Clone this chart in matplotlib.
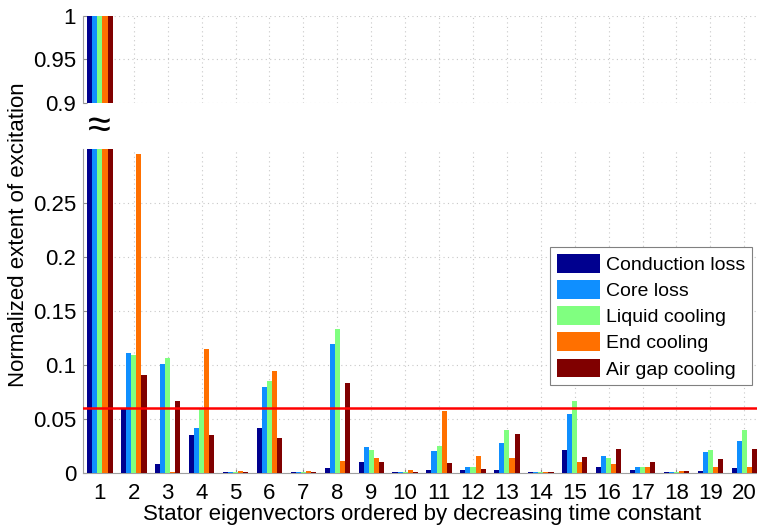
import matplotlib.pyplot as plt
import numpy as np

plt.rcParams['font.family'] = ['Liberation Sans', 'DejaVu Sans']

modes = list(range(1, 21))
series = ["Conduction loss", "Core loss", "Liquid cooling", "End cooling", "Air gap cooling"]
colors = ["#00008F", "#0F8FFF", "#80FF80", "#FF7000", "#800000"]

conduction = [1.0, 0.059, 0.008, 0.035, 0.001, 0.042, 0.0005, 0.005, 0.010, 0.001,
              0.003, 0.003, 0.003, 0.0005, 0.021, 0.006, 0.003, 0.0005, 0.002, 0.005]
core = [1.0, 0.111, 0.101, 0.042, 0.001, 0.080, 0.001, 0.119, 0.024, 0.001,
        0.020, 0.006, 0.028, 0.001, 0.055, 0.016, 0.006, 0.0005, 0.019, 0.030]
liquid = [1.0, 0.109, 0.106, 0.059, 0.001, 0.085, 0.001, 0.133, 0.021, 0.001,
          0.025, 0.006, 0.040, 0.001, 0.067, 0.014, 0.006, 0.001, 0.021, 0.040]
end = [1.0, 0.295, 0.0005, 0.115, 0.002, 0.094, 0.002, 0.011, 0.014, 0.003,
       0.057, 0.016, 0.014, 0.0008, 0.010, 0.008, 0.006, 0.0015, 0.006, 0.006]
airgap = [1.0, 0.091, 0.067, 0.035, 0.001, 0.032, 0.0005, 0.083, 0.010, 0.001,
          0.009, 0.004, 0.036, 0.0008, 0.015, 0.022, 0.010, 0.0015, 0.013, 0.022]
threshold = 0.06

data = [conduction, core, liquid, end, airgap]
x = np.array(modes)
w = 0.15

fig = plt.figure(figsize=(7.57, 5.27), dpi=100)
ax_top = fig.add_axes([0.1096, 0.8046, 0.896, 0.165])
ax = fig.add_axes([0.1096, 0.1025, 0.896, 0.615])

for axis in (ax_top, ax):
    for i, vals in enumerate(data):
        axis.bar(x + (i - 2) * w, vals, w, color=colors[i], label=series[i],
                 linewidth=0, zorder=3)
    axis.set_xlim(0.5, 20.5)
    axis.grid(True, linestyle=(0, (1, 3)), color="#c8c8c8", linewidth=0.8, zorder=0)
    axis.tick_params(direction="in", length=3, labelsize=16, color="#909090", pad=5)
    for s in ("top", "right"):
        axis.spines[s].set_visible(False)
    axis.spines["left"].set_color("#a0a0a0")
    axis.spines["bottom"].set_color("#a0a0a0")

# upper panel only shows the top of the first group
ax_top.set_ylim(0.9, 1.0)
ax_top.set_yticks([0.9, 0.95, 1.0])
ax_top.set_yticklabels(["0.9", "0.95", "1"])
ax_top.set_xticks(modes)
ax_top.tick_params(axis="x", labelbottom=False, length=0)
ax_top.spines["bottom"].set_visible(False)

ax.set_ylim(0, 0.3)
ax.set_yticks([0, 0.05, 0.1, 0.15, 0.2, 0.25])
ax.set_yticklabels(["0", "0.05", "0.1", "0.15", "0.2", "0.25"])
ax.set_xticks(modes)
ax.tick_params(axis="x", pad=7)
ax.axhline(threshold, color="red", linewidth=1.8, zorder=4)
ax.set_xlabel("Stator eigenvectors ordered by decreasing time constant",
              fontsize=16, labelpad=0)

# axis break marker
fig.text(0.131, 0.759, "\u2248", fontsize=30, ha="center", va="center")

fig.text(0.024, 0.555, "Normalized extent of excitation", rotation=90,
         fontsize=16, ha="center", va="center")

leg = ax.legend(loc="upper right", bbox_to_anchor=(0.994, 0.531),
                bbox_transform=fig.transFigure, fontsize=14,
                handlelength=2.2, handleheight=1.1, handletextpad=0.35,
                labelspacing=0.32, borderpad=0.35, borderaxespad=0,
                fancybox=False, framealpha=1, edgecolor="#808080")
leg.get_frame().set_linewidth(0.8)

fig.savefig("out.png", dpi=100)
